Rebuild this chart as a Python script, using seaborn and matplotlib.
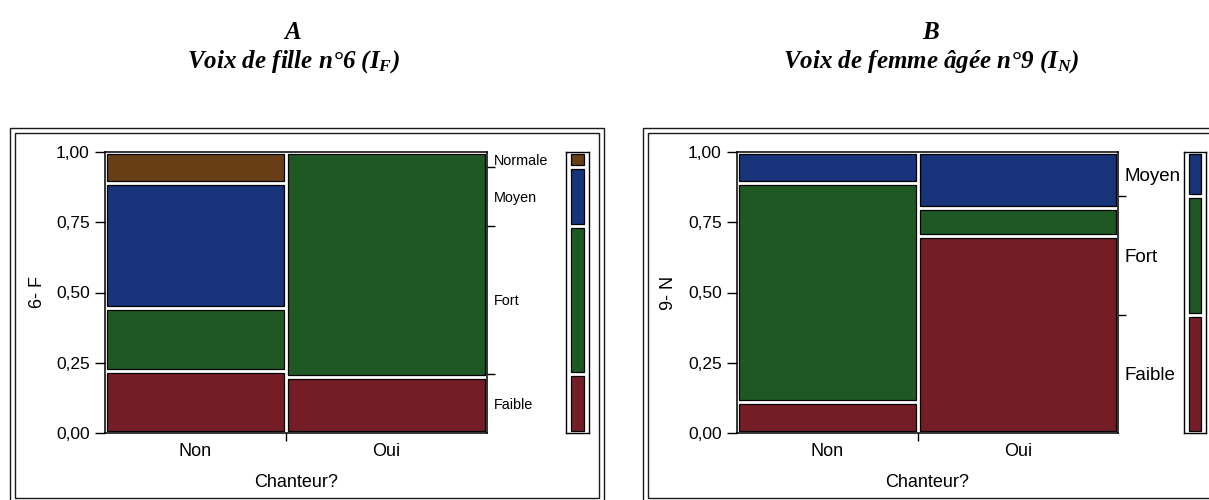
import matplotlib
matplotlib.use("Agg")
import matplotlib.pyplot as plt
import seaborn as sns
import numpy as np
from matplotlib.patches import Rectangle

# ---------------- data ----------------
columns = ["Non", "Oui"]
column_share = [0.474, 0.526]          # share of each Chanteur? group (x widths)

levels_A = ["Faible", "Fort", "Moyen", "Normale"]
A_non = [0.222, 0.222, 0.445, 0.111]
A_oui = [0.200, 0.800, 0.000, 0.000]

levels_B = ["Faible", "Fort", "Moyen"]
B_non = [0.111, 0.778, 0.111]
B_oui = [0.700, 0.100, 0.200]

y_ticks = [0.0, 0.25, 0.50, 0.75, 1.0]
y_tick_labels = ["0,00", "0,25", "0,50", "0,75", "1,00"]

title_A = ["A", "Voix de fille n°6 ($I_F$)"]
title_B = ["B", "Voix de femme âgée n°9 ($I_N$)"]
ylabel_A = "6- F"
ylabel_B = "9- N"
xlabel = "Chanteur?"

palette = sns.color_palette(["#751D26", "#1E5924", "#17347A", "#673E16"])
level_colors = dict(zip(["Faible", "Fort", "Moyen", "Normale"], palette))

# ---------------- style ----------------
sns.set_theme(style="white")
plt.rcParams["font.family"] = ["Liberation Sans", "DejaVu Sans"]
plt.rcParams["mathtext.fontset"] = "custom"
plt.rcParams["mathtext.it"] = "Liberation Serif:italic:bold"
plt.rcParams["mathtext.rm"] = "Liberation Serif:italic:bold"

W, H = 1209, 500
fig = plt.figure(figsize=(W / 100, H / 100), dpi=100)
fig.patch.set_facecolor("white")


def px_axes(l, r, t, b):
    return fig.add_axes([l / W, 1 - b / H, (r - l) / W, (b - t) / H])


def frame(l, r, t, b):
    fig.add_artist(Rectangle((l / W, 1 - b / H), (r - l) / W, (b - t) / H,
                             transform=fig.transFigure, fill=False,
                             edgecolor="#1a1a1a", linewidth=1.0))


def mosaic(ax, side, levels, props, ylabel, side_fs, ylabelpad):
    pos = ax.get_position()
    wpx, hpx = pos.width * W, pos.height * H
    gx, gy = 2.0 / wpx, 2.0 / hpx
    bounds = np.concatenate([[0], np.cumsum(column_share)])
    for j, col_props in enumerate(props):
        x0, w = bounds[j], column_share[j]
        cum = 0.0
        for lev, p in zip(levels, col_props):
            if p > 0:
                ax.bar(x0 + gx, p - 2 * gy, width=w - 2 * gx, bottom=cum + gy,
                       align="edge", color=level_colors[lev],
                       edgecolor="black", linewidth=0.9)
            cum += p
    ax.set_xlim(0, 1)
    ax.set_ylim(0, 1)
    for s in ax.spines.values():
        s.set_color("black")
        s.set_linewidth(1.1)
        s.set_visible(True)

    # y axis
    ax.set_yticks(y_ticks, y_tick_labels)
    ax.tick_params(axis="y", which="major", left=True, length=7, width=1.0,
                   color="black", labelsize=12.5, pad=4, labelcolor="black")
    # x axis
    centers = [bounds[j] + column_share[j] / 2 for j in range(len(columns))]
    ax.set_xticks(bounds[1:-1], [""] * (len(bounds) - 2))
    ax.set_xticks(centers, columns, minor=True)
    ax.tick_params(axis="x", which="major", bottom=True, length=6, width=1.0,
                   color="black")
    ax.tick_params(axis="x", which="minor", bottom=True, length=0, pad=7,
                   labelsize=13, labelcolor="black")
    ax.set_xlabel(xlabel, fontsize=13, labelpad=10, color="black")
    ax.set_ylabel(ylabel, fontsize=13, labelpad=ylabelpad, color="black")

    # marginal distribution
    marg = np.zeros(len(levels))
    for j, col_props in enumerate(props):
        marg += column_share[j] * np.array(col_props)
    mb = np.concatenate([[0], np.cumsum(marg)])
    mb[-1] = 1.0
    mids = (mb[:-1] + mb[1:]) / 2

    tw = ax.twinx()
    tw.set_ylim(0, 1)
    tw.set_yticks(mb[1:-1], [""] * (len(mb) - 2))
    tw.set_yticks(mids, levels, minor=True)
    tw.tick_params(axis="y", which="major", right=True, length=6, width=1.0,
                   color="black")
    tw.tick_params(axis="y", which="minor", right=True, length=0, pad=5,
                   labelsize=side_fs, labelcolor="black")
    for s in tw.spines.values():
        s.set_visible(False)
    tw.grid(False)

    # side bar
    spos = side.get_position()
    swpx, shpx = spos.width * W, spos.height * H
    sgx, sgy = 5.0 / swpx, 2.0 / shpx
    for k, lev in enumerate(levels):
        side.bar(sgx, marg[k] - 2 * sgy, width=1 - 2 * sgx, bottom=mb[k] + sgy,
                 align="edge", color=level_colors[lev], edgecolor="black",
                 linewidth=0.9)
    side.set_xlim(0, 1)
    side.set_ylim(0, 1)
    side.set_xticks([])
    side.set_yticks([])
    for s in side.spines.values():
        s.set_color("black")
        s.set_linewidth(1.0)
        s.set_visible(True)


# panel frames (double lines)
frame(10, 604, 128, 504)
frame(15, 599, 133, 498)
frame(643, 1216, 128, 504)
frame(648, 1212, 133, 498)

axA = px_axes(105, 487, 152, 433)
sideA = px_axes(566, 589, 152, 433)
axB = px_axes(737, 1118, 152, 433)
sideB = px_axes(1184, 1206, 152, 433)

mosaic(axA, sideA, levels_A, [A_non, A_oui], ylabel_A, 10.4, 7)
mosaic(axB, sideB, levels_B, [B_non, B_oui], ylabel_B, 13.5, 8)

tkw = dict(ha="center", va="baseline", fontsize=18, family="Liberation Serif",
           weight="bold", style="italic", color="black")
fig.text(293 / W, 1 - 39 / H, title_A[0], **tkw)
fig.text(293 / W, 1 - 68 / H, title_A[1], **tkw)
fig.text(931 / W, 1 - 39 / H, title_B[0], **tkw)
fig.text(931 / W, 1 - 68 / H, title_B[1], **tkw)

fig.savefig("out.png", dpi=100, facecolor="white")
